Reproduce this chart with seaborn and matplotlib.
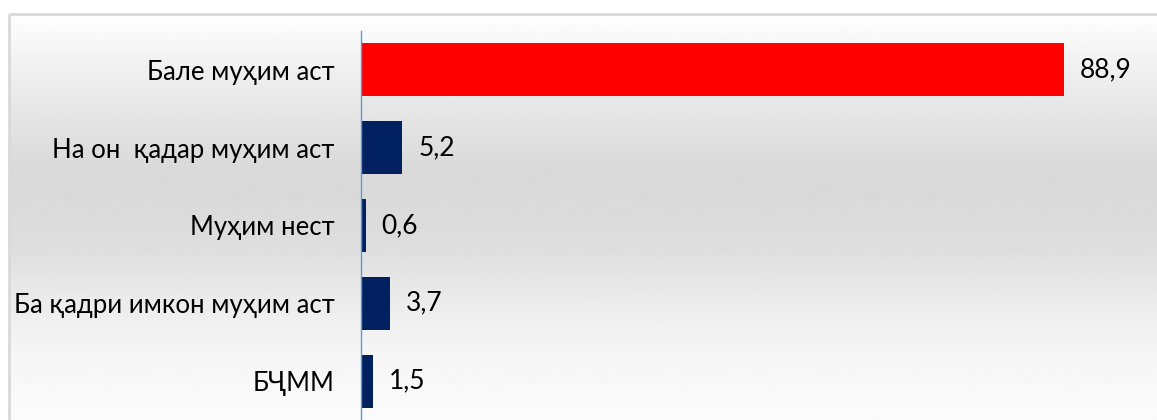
import numpy as np
import pandas as pd
import matplotlib
matplotlib.use("Agg")
import matplotlib.pyplot as plt
from matplotlib.patches import Rectangle
import seaborn as sns

# Survey answers and their shares (%)
categories = [
    "Бале муҳим аст",
    "На он  қадар муҳим аст",
    "Муҳим нест",
    "Ба қадри имкон муҳим аст",
    "БҶММ",
]
values = [88.9, 5.2, 0.6, 3.7, 1.5]
value_labels = ["88,9", "5,2", "0,6", "3,7", "1,5"]
bar_colors = ["#ff0000", "#002060", "#002060", "#002060", "#002060"]

df = pd.DataFrame({"category": categories, "value": values})

sns.set_style("white")
plt.rcParams["font.family"] = ["Lato", "DejaVu Sans"]

W, H = 1157, 420
fig = plt.figure(figsize=(W / 100, H / 100), dpi=100)

# Panel background: soft vertical grey gradient inside a thin frame
bg = fig.add_axes([0, 0, 1, 1], zorder=0)
bg.set_xlim(0, W)
bg.set_ylim(H, 0)
bg.set_axis_off()
ys = np.linspace(14, H, 400)
stops_y = [14, 50, 100, 167, 200, 250, 300, 350, 420]
stops_v = [254, 245, 232, 218, 218, 222, 235, 245, 251]
shade = np.interp(ys, stops_y, stops_v) / 255.0
grad = np.repeat(shade[:, None], 2, axis=1)
bg.imshow(grad, cmap="gray", vmin=0, vmax=1, aspect="auto",
          extent=(9, W + 5, H, 14), interpolation="bilinear")
bg.add_patch(Rectangle((8.5, 13.5), W + 20, H + 20, fill=False,
                       edgecolor="#d9d9d9", linewidth=2))

# Bar chart axes
axis_x = 361
top_px = 31
ax = fig.add_axes([axis_x / W, 0, 791 / W, (H - top_px) / H], zorder=1)
ax.patch.set_alpha(0)

sns.barplot(data=df, x="value", y="category", hue="category",
            palette=bar_colors, legend=False, orient="h",
            width=0.68, saturation=1, linewidth=0, ax=ax)

ax.set_xlim(0, 100)
ax.set_ylim(len(categories) - 0.5, -0.5)
ax.set_xlabel("")
ax.set_ylabel("")
ax.set_xticks([])

for side in ("top", "right", "bottom"):
    ax.spines[side].set_visible(False)
ax.spines["left"].set_color("#5b9bd5")
ax.spines["left"].set_linewidth(1.0)

# Category labels centred on bars, tick marks between categories
ax.set_yticks(range(len(categories)))
ax.set_yticklabels(categories)
ax.set_yticks(np.arange(-0.5, len(categories), 1), minor=True)
ax.tick_params(axis="y", which="major", length=0, pad=19, labelsize=18.5,
               labelcolor="black")
ax.tick_params(axis="y", which="minor", length=6, width=1,
               color="#5b9bd5", direction="out")

# Value labels to the right of each bar
for i, (v, lab) in enumerate(zip(values, value_labels)):
    ax.annotate(lab, xy=(v, i), xytext=(11.5, 0), textcoords="offset points",
                ha="left", va="center", fontsize=19, color="black")

fig.savefig("out.png", dpi=100)
